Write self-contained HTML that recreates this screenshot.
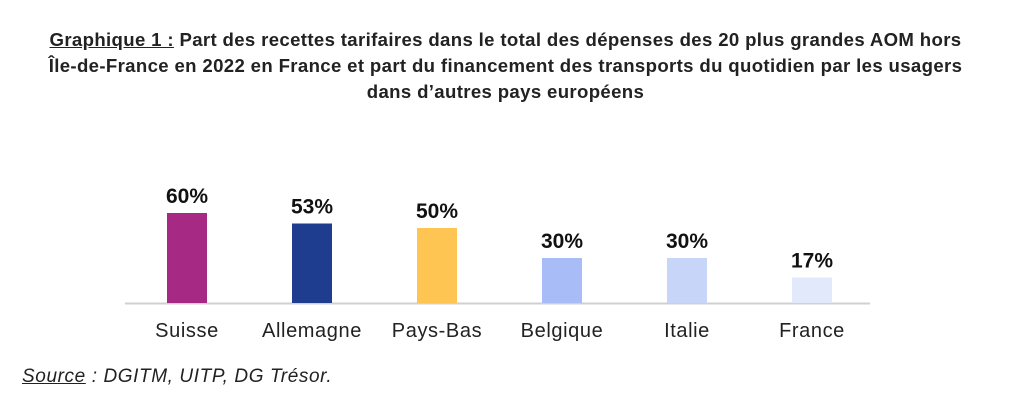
<!DOCTYPE html>
<html><head><meta charset="utf-8"><style>
body{margin:0;background:#fff;width:1011px;height:409px;overflow:hidden;font-family:"Liberation Sans",sans-serif;}
.t{position:absolute;left:0;width:1011px;top:27px;text-align:center;font-weight:bold;font-size:18.6px;letter-spacing:0.35px;line-height:26px;color:#222;white-space:nowrap;}
.src{position:absolute;left:22px;top:366px;font-style:italic;font-size:19px;letter-spacing:0.6px;color:#222;}
</style></head><body>
<div class="t"><u>Graphique 1 :</u> Part des recettes tarifaires dans le total des dépenses des 20 plus grandes AOM hors<br>Île-de-France en 2022 en France et part du financement des transports du quotidien par les usagers<br>dans d’autres pays européens</div>
<svg id="c" width="1011" height="409" style="position:absolute;left:0;top:0"></svg>
<div class="src"><u>Source</u> : DGITM, UITP, DG Trésor.</div>
<script>
const categories=["Suisse","Allemagne","Pays-Bas","Belgique","Italie","France"];
const values=[60,53,50,30,30,17];
const labels=["60%","53%","50%","30%","30%","17%"];
const colors=["#a62a83","#1f3d8f","#fec553","#a8bcf8","#c7d5f8","#e2e9fb"];
const svg=document.getElementById('c');const NS="http://www.w3.org/2000/svg";
const base=303,scale=1.5;
const y=v=>base-v*scale;const x=i=>187+i*125;
const ax=document.createElementNS(NS,'line');
ax.setAttribute('x1',125);ax.setAttribute('x2',870);ax.setAttribute('y1',base+0.5);ax.setAttribute('y2',base+0.5);
ax.setAttribute('stroke','#d0d0d0');ax.setAttribute('stroke-width',2);


svg.appendChild(ax);
values.forEach((v,i)=>{
const r=document.createElementNS(NS,'rect');
r.setAttribute('x',x(i)-20);r.setAttribute('width',40);r.setAttribute('y',y(v));r.setAttribute('height',base-y(v));r.setAttribute('fill',colors[i]);


svg.appendChild(r);
const t=document.createElementNS(NS,'text');
t.setAttribute('x',x(i));t.setAttribute('y',y(v)-10);t.setAttribute('text-anchor','middle');t.setAttribute('font-weight','bold');t.setAttribute('font-size','21');t.setAttribute('fill','#111');
t.textContent=labels[i];


svg.appendChild(t);
const c=document.createElementNS(NS,'text');
c.setAttribute('x',x(i));c.setAttribute('y',337);c.setAttribute('text-anchor','middle');c.setAttribute('font-size','20');c.setAttribute('letter-spacing','0.6');c.setAttribute('fill','#222');
c.textContent=categories[i];


svg.appendChild(c);
});
</script>
</body></html>
